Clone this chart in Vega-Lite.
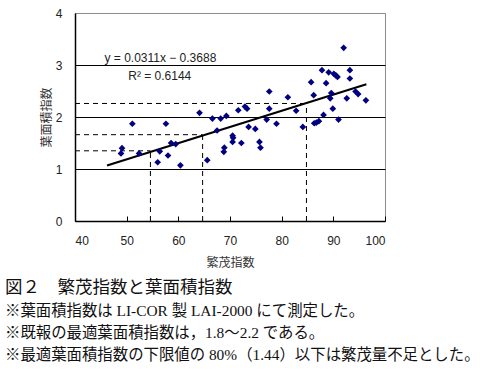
{
  "$schema": "https://vega.github.io/schema/vega-lite/v6.json",
  "width": 310,
  "height": 208,
  "autosize": {"type": "none"},
  "padding": {"left": 75, "top": 13, "right": 101, "bottom": 149},
  "background": "white",
  "config": {
    "view": {"stroke": "#8c8c8c", "strokeWidth": 1},
    "axis": {"labelFont": "Liberation Sans", "labelFontSize": 12, "labelColor": "#222", "titleFont": "Noto Sans CJK JP", "titleFontSize": 12, "titleFontWeight": "normal", "titleColor": "#333", "domainColor": "black", "tickColor": "black"}
  },
  "title": {
    "text": "図２　繁茂指数と葉面積指数",
    "subtitle": ["※葉面積指数は LI-COR 製 LAI-2000 にて測定した。", "※既報の最適葉面積指数は，1.8～2.2 である。", "※最適葉面積指数の下限値の 80%（1.44）以下は繁茂量不足とした。"],
    "orient": "bottom",
    "anchor": "start",
    "frame": "group",
    "dx": -70,
    "offset": 11,
    "font": "Liberation Serif, Noto Sans CJK JP",
    "fontSize": 17.5,
    "fontWeight": "normal",
    "color": "#111",
    "subtitleFont": "Liberation Serif, Noto Sans CJK JP",
    "subtitleFontSize": 15.4,
    "subtitleColor": "#111",
    "subtitleLineHeight": 22,
    "subtitlePadding": 7
  },
  "datasets": {
    "pts": [
      {"x": 49.1, "y": 1.40}, {"x": 48.9, "y": 1.30}, {"x": 51.1, "y": 1.87}, {"x": 52.4, "y": 1.30},
      {"x": 56.4, "y": 1.34}, {"x": 56.0, "y": 1.13}, {"x": 57.6, "y": 1.87}, {"x": 58.0, "y": 1.26},
      {"x": 58.6, "y": 1.50}, {"x": 59.5, "y": 1.48}, {"x": 60.4, "y": 1.07}, {"x": 64.1, "y": 2.08},
      {"x": 65.6, "y": 1.17}, {"x": 66.6, "y": 1.97}, {"x": 67.5, "y": 1.74}, {"x": 68.2, "y": 1.97},
      {"x": 69.3, "y": 2.02}, {"x": 68.9, "y": 1.41}, {"x": 68.8, "y": 1.33}, {"x": 70.5, "y": 1.64},
      {"x": 70.6, "y": 1.60}, {"x": 70.5, "y": 1.52}, {"x": 71.6, "y": 2.13}, {"x": 72.2, "y": 1.50},
      {"x": 72.9, "y": 2.20}, {"x": 73.3, "y": 2.16}, {"x": 73.6, "y": 1.81}, {"x": 74.9, "y": 1.77},
      {"x": 75.7, "y": 1.52}, {"x": 75.9, "y": 1.41}, {"x": 77.1, "y": 1.95}, {"x": 77.6, "y": 2.16},
      {"x": 77.6, "y": 2.49}, {"x": 79.0, "y": 1.87}, {"x": 81.2, "y": 2.38}, {"x": 82.8, "y": 2.12},
      {"x": 84.1, "y": 1.81}, {"x": 85.7, "y": 2.67}, {"x": 86.2, "y": 2.42}, {"x": 86.3, "y": 1.88},
      {"x": 86.7, "y": 1.89}, {"x": 87.2, "y": 1.92}, {"x": 88.1, "y": 2.04}, {"x": 87.8, "y": 2.90},
      {"x": 88.6, "y": 2.65}, {"x": 89.1, "y": 2.86}, {"x": 89.4, "y": 2.36}, {"x": 89.6, "y": 2.46},
      {"x": 89.9, "y": 2.16}, {"x": 90.1, "y": 2.83}, {"x": 90.5, "y": 2.80}, {"x": 90.8, "y": 2.77},
      {"x": 91.0, "y": 1.95}, {"x": 92.0, "y": 3.33}, {"x": 92.6, "y": 2.36}, {"x": 93.2, "y": 2.90},
      {"x": 93.2, "y": 2.74}, {"x": 94.3, "y": 2.49}, {"x": 94.8, "y": 2.44}, {"x": 96.3, "y": 2.32}
    ],
    "guides": [
      {"x": 40, "x2": 54.6, "y": 1.35, "y2": 1.35},
      {"x": 54.6, "x2": 54.6, "y": 0, "y2": 1.35},
      {"x": 40, "x2": 64.7, "y": 1.66, "y2": 1.66},
      {"x": 64.7, "x2": 64.7, "y": 0, "y2": 1.66},
      {"x": 40, "x2": 84.8, "y": 2.26, "y2": 2.26},
      {"x": 84.8, "x2": 84.8, "y": 0, "y2": 2.26}
    ],
    "fit": [{"x": 46.2, "y": 1.068}, {"x": 96.4, "y": 2.629}],
    "labels": [
      {"x": 45.7, "y": 3.13, "t": "y = 0.0311x − 0.3688"},
      {"x": 50.3, "y": 2.78, "t": "R² = 0.6144"}
    ]
  },
  "layer": [
    {
      "data": {"name": "guides"},
      "mark": {"type": "rule", "color": "black", "strokeWidth": 1, "strokeDash": [5, 4]},
      "encoding": {
        "x": {"field": "x", "type": "quantitative", "scale": {"domain": [40, 100], "nice": false},
          "axis": {"values": [40, 50, 60, 70, 80, 90, 100], "format": "d", "title": "繁茂指数", "grid": false, "tickSize": -5, "labelPadding": 19, "titlePadding": 11, "domainWidth": 1.5}},
        "x2": {"field": "x2"},
        "y": {"field": "y", "type": "quantitative", "scale": {"domain": [0, 4], "nice": false},
          "axis": {"values": [0, 1, 2, 3, 4], "format": "d", "title": "葉面積指数", "ticks": false, "labelPadding": 13, "titlePadding": 2, "domainWidth": 1.5, "grid": true,
            "gridColor": {"condition": {"test": "datum.value == 4 || datum.value == 0", "value": "#8c8c8c"}, "value": "black"}, "gridWidth": 1, "gridOpacity": 1}},
        "y2": {"field": "y2"}
      }
    },
    {
      "data": {"name": "fit"},
      "mark": {"type": "line", "color": "black", "strokeWidth": 2},
      "encoding": {
        "x": {"field": "x", "type": "quantitative"},
        "y": {"field": "y", "type": "quantitative"}
      }
    },
    {
      "data": {"name": "pts"},
      "mark": {"type": "point", "shape": "diamond", "filled": true, "color": "#000080", "size": 45, "opacity": 1},
      "encoding": {
        "x": {"field": "x", "type": "quantitative"},
        "y": {"field": "y", "type": "quantitative"}
      }
    },
    {
      "data": {"name": "labels"},
      "mark": {"type": "text", "align": "left", "baseline": "middle", "font": "Liberation Sans", "fontSize": 12, "color": "#222"},
      "encoding": {
        "x": {"field": "x", "type": "quantitative"},
        "y": {"field": "y", "type": "quantitative"},
        "text": {"field": "t"}
      }
    }
  ]
}
